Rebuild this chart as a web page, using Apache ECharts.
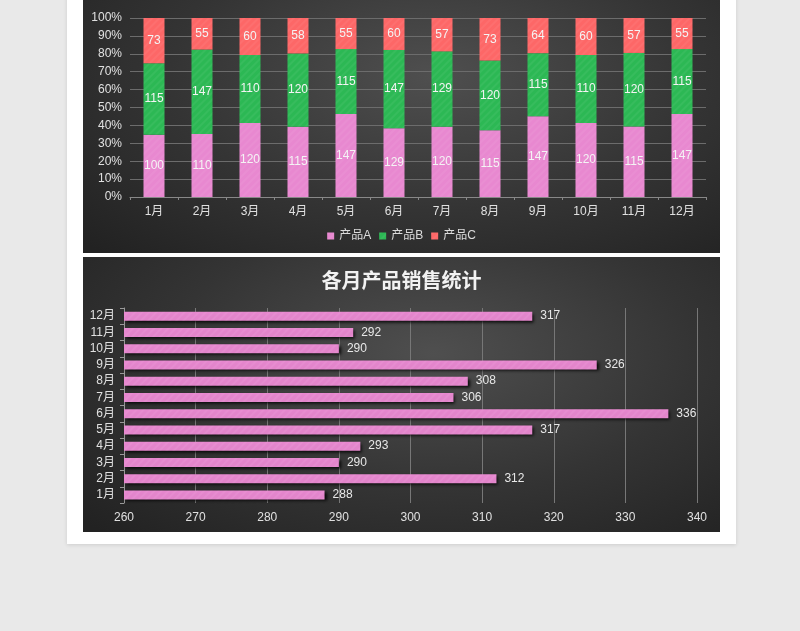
<!DOCTYPE html>
<html><head><meta charset="utf-8">
<script src="https://cdn.jsdelivr.net/npm/echarts@6/dist/echarts.min.js"></script>
<style>
html,body{margin:0;padding:0;width:800px;height:631px;background:#e9e9e9;overflow:hidden;}
#page{position:absolute;left:67px;top:-10px;width:669px;height:554px;background:#fff;box-shadow:0 1px 4px rgba(0,0,0,0.12);}
.panel{position:absolute;left:83px;width:637px;background:radial-gradient(ellipse 75% 90% at 55% 35%, #4f4f4f 0%, #343434 55%, #222 100%);}
#topPanel{top:-20px;height:273px;}
#botPanel{top:257px;height:275px;}
</style></head>
<body>
<div id="page"></div>
<div class="panel" id="topPanel"></div>
<div class="panel" id="botPanel"></div>
<script>
const months = ['1月','2月','3月','4月','5月','6月','7月','8月','9月','10月','11月','12月'];
const productA = [100,110,120,115,147,129,120,115,147,120,115,147];
const productB = [115,147,110,120,115,147,129,120,115,110,120,115];
const productC = [73,55,60,58,55,60,57,73,64,60,57,55];
const monthTotals = [288,312,290,293,317,336,306,308,326,290,292,317];
const seriesNames = ['产品A','产品B','产品C'];
const colors = ['#e888d0','#2cb854','#fd6767'];
const pctTicks = [0,10,20,30,40,50,60,70,80,90,100];
const totalTicks = [260,270,280,290,300,310,320,330,340];

const font = '"Liberation Sans","Noto Sans CJK SC",sans-serif';
const decal = {symbol:'rect', symbolSize:1, dashArrayX:[1,0], dashArrayY:[2,3], rotation:-Math.PI/4, color:'rgba(255,255,255,0.05)'};

const topChart = echarts.init(document.getElementById('topPanel'));
const raw = [productA, productB, productC];
function pct(arr){
  return arr.map((v,i)=>({value: v/(productA[i]+productB[i]+productC[i])*100, raw: v}));
}
topChart.setOption({
  backgroundColor:'transparent',
  textStyle:{fontFamily:font},
  grid:{left:47,right:14,top:38,bottom:56},
  legend:{bottom:6,left:'center',itemWidth:7,itemHeight:7,itemGap:8,icon:'rect',
    textStyle:{color:'#dcdcdc',fontSize:12,fontFamily:font}},
  xAxis:{type:'category',data:months,
    axisLine:{lineStyle:{color:'#888'}},
    axisTick:{show:true,length:3,lineStyle:{color:'#888'}},
    axisLabel:{color:'#e0e0e0',fontSize:12,margin:9}},
  yAxis:{type:'value',min:pctTicks[0],max:pctTicks[pctTicks.length-1],interval:10,
    axisLabel:{formatter:'{value}%',color:'#e0e0e0',fontSize:12,margin:8},
    splitLine:{lineStyle:{color:'#6c6c6c'}},axisLine:{show:false},axisTick:{show:false}},
  series: raw.map((arr,k)=>({
    name:seriesNames[k],type:'bar',stack:'all',barWidth:21,
    data:pct(arr),
    itemStyle:{color:colors[k],decal:decal},
    label:{show:true,position:'inside',color:'#f4f4f4',fontSize:12,formatter:p=>p.data.raw}
  }))
});

const botChart = echarts.init(document.getElementById('botPanel'));
botChart.setOption({
  backgroundColor:'transparent',
  textStyle:{fontFamily:font},
  title:{text:'各月产品销售统计',left:'center',top:10,
    textStyle:{color:'#f2f2f2',fontSize:20,fontWeight:'bold',fontFamily:font}},
  grid:{left:41,right:23,top:51,bottom:29},
  xAxis:{type:'value',min:totalTicks[0],max:totalTicks[totalTicks.length-1],interval:10,
    axisLine:{show:false},axisTick:{show:false},
    axisLabel:{color:'#e0e0e0',fontSize:12,margin:9},
    splitLine:{lineStyle:{color:'#777',width:1}}},
  yAxis:{type:'category',data:months,
    axisLine:{lineStyle:{color:'#999'}},
    axisTick:{show:true,length:4,lineStyle:{color:'#999'}},
    axisLabel:{color:'#e0e0e0',fontSize:12,margin:9}},
  series:[{type:'bar',data:monthTotals,barWidth:9,
    itemStyle:{color:'#e888d0',decal:decal,shadowColor:'rgba(0,0,0,0.85)',shadowBlur:3,shadowOffsetX:2,shadowOffsetY:2},
    label:{show:true,position:'right',distance:8,color:'#e8e8e8',fontSize:12}}]
});
</script>
</body></html>
